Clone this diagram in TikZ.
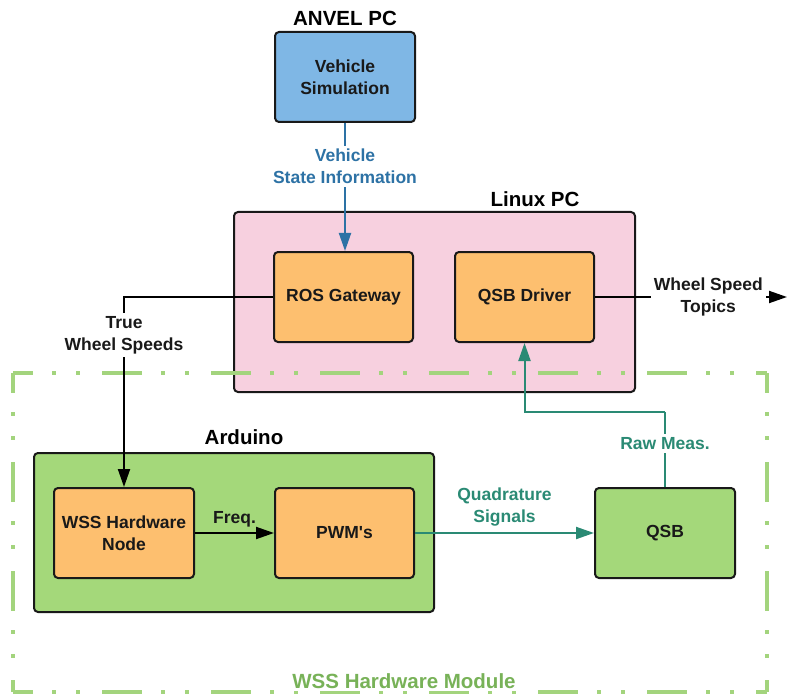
\documentclass[tikz,border=0pt]{standalone}
\usepackage{fontspec}
\setmainfont{Liberation Sans}
\usetikzlibrary{
    arrows.meta,
    positioning
}
\definecolor{simblue}{HTML}{7FB7E5}
\definecolor{linuxpink}{HTML}{F7D0DF}
\definecolor{boxorange}{HTML}{FDBF6F}
\definecolor{boxgreen}{HTML}{A4D87A}
\definecolor{framegreen}{HTML}{A3D47D}
\definecolor{labelgreen}{HTML}{78B258}
\definecolor{stateblue}{HTML}{2D72A5}
\definecolor{signalteal}{HTML}{2A8A74}
\tikzset{
    % Colors
    sim color/.style={fill=simblue},
    pc color/.style={fill=linuxpink},
    part color/.style={fill=boxorange},
    board color/.style={fill=boxgreen},
    %
    % Text
    box text/.style={font=\fontsize{17.5}{22}\selectfont\bfseries, align=center, text=black!90},
    title/.style={font=\fontsize{20.5}{24}\selectfont\bfseries},
    %
    % Boxes
    block/.style={draw=black!90, line width=2pt, rounded corners=4pt, box text},
    unit/.style={block, minimum width=140pt, minimum height=90pt},
    %
    % Arrows
    arrow tip/.tip={Triangle[length=18pt,width=12pt]},
    arr/.style={-{arrow tip}, line width=2pt},
    plain edge/.style={line width=2pt},
    edge label/.style={box text, fill=white, inner sep=3pt},
    %
    % Module frame
    module side/.style={framegreen, line width=3.5pt,
        dash pattern=on 40pt off 19pt on 4pt off 20pt on 4pt off 22pt, dash phase=20pt}
}

\begin{document}
\begin{tikzpicture}[x=1pt,y=-1pt]
    \useasboundingbox (0,0) rectangle (787,695);

    % ANVEL PC
    \node[title] (anvel title) at (345,18) {ANVEL PC};
    \node[unit, sim color] (sim) at (345,77) {Vehicle\\Simulation};

    % Linux PC
    \node[block, pc color, minimum width=401pt, minimum height=180pt] (linux) at (434.5,302) {};
    \node[title] (linux title) at (535,199) {Linux PC};
    \node[unit, part color, minimum width=139pt] (ros) at (343.5,297) {ROS Gateway};
    \node[unit, part color, minimum width=139pt] (driver) at (524.5,297) {QSB Driver};

    % Arduino
    \node[block, board color, minimum width=400pt, minimum height=159pt] (arduino) at (234,532.5) {};
    \node[title] (arduino title) at (244,437) {Arduino};
    \node[unit, part color] (wss) at (124,533) {WSS Hardware\\Node};
    \node[unit, part color, minimum width=139pt] (pwm) at (344.5,533) {PWM\textquotesingle s};

    % QSB
    \node[unit, board color] (qsb) at (665,533) {QSB};

    % WSS hardware module frame
    \coordinate (module nw) at (13,373);
    \coordinate (module ne) at (767,373);
    \coordinate (module se) at (767,692);
    \coordinate (module sw) at (13,692);
    \draw[module side] (module nw) -- (module ne);
    \draw[module side] (module nw) -- (module sw);
    \draw[module side] (module ne) -- (module se);
    \draw[module side] (module sw) -- (module se);
    \node[title, text=labelgreen, fill=white, inner sep=2pt] (module title) at (404,681) {WSS Hardware Module};

    % Connections
    \coordinate (topics end) at (787,297);
    \coordinate (raw bend) at (665,412);
    \draw[arr, stateblue] (sim.south) -- (sim.south |- ros.north)
        node[edge label, text=stateblue, pos=.34] {Vehicle\\State Information};
    \draw[arr] (ros.west) -| (wss.north)
        node[edge label, pos=.6] {True\\Wheel Speeds};
    \draw[arr] (driver.east) -- (topics end)
        node[edge label, pos=.59] {Wheel Speed\\Topics};
    \draw[arr] (wss.east) -- (pwm.west)
        node[box text, midway, above=2pt] {Freq.};
    \draw[arr, signalteal] (pwm.east) -- (qsb.west)
        node[box text, text=signalteal, midway, above=2pt] {Quadrature\\Signals};
    \draw[plain edge, signalteal] (qsb.north) -- (raw bend)
        node[edge label, text=signalteal, pos=.58] {Raw Meas.};
    \draw[arr, signalteal] (raw bend) -| (driver.south);
\end{tikzpicture}
\end{document}
